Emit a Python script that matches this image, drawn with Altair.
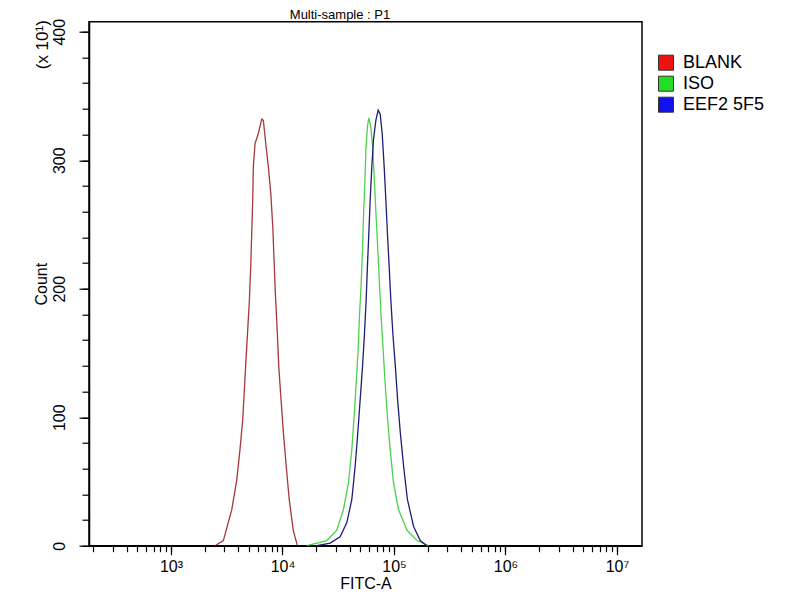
import altair as alt
import pandas as pd

# ---------------- data ----------------
series_names = ["BLANK", "ISO", "EEF2 5F5"]
line_colors = ["#a53838", "#4ecf4e", "#1e1e78"]
legend_colors = ["#ee1111", "#22dd22", "#1111ee"]

blank_fitc = [2480, 2950, 3510, 3890, 4160, 4400, 4550, 4710, 4880, 5050, 5190,
              5300, 5410, 5480, 5680, 6080, 6520, 6740, 7080, 7470, 7860, 8190,
              8410, 8640, 9000, 9270, 9720, 10190, 10800, 11500, 12500, 13600]
blank_count = [0, 4, 28, 51, 75, 98, 121, 145, 168, 191, 217,
               243, 269, 295, 313, 321, 332, 331, 313, 295, 274, 248,
               222, 196, 165, 139, 113, 88, 62, 36, 12, 0]

iso_fitc = [16500, 25000, 30700, 35200, 39100, 41900, 43900, 45800, 47700, 49000,
            50800, 52200, 53300, 54800, 56000, 57800, 59500, 62000, 64700, 66900,
            69200, 71700, 74100, 76800, 80000, 83400, 87400, 92500, 99000, 110000,
            131000, 161000, 204000]
iso_count = [0, 4, 12, 28, 49, 75, 100, 126, 152, 178,
             204, 230, 256, 282, 308, 326, 333, 326, 308, 282,
             256, 230, 204, 178, 152, 126, 100, 75, 49, 28,
             12, 4, 0]

eef2_fitc = [20300, 26800, 32900, 37800, 41900, 44900, 47400, 49700, 52200, 54400,
             56300, 57800, 59500, 61200, 63300, 65500, 68800, 72200, 75200, 78400,
             81700, 84600, 87400, 90600, 93800, 97800, 103000, 108000, 114000, 122000,
             132000, 150000, 172000, 197000]
eef2_count = [0, 2, 7, 18, 36, 62, 88, 113, 139, 165,
              191, 217, 243, 269, 295, 316, 331, 339, 336, 321,
              295, 269, 243, 217, 191, 165, 139, 113, 88, 62,
              36, 15, 4, 0]

x_domain = [184, 16777216]
y_domain = [0, 407.8]
y_major = [0, 100, 200, 300, 400]
y_minor = list(range(0, 401, 20))
x_major = [1000, 10000, 100000, 1000000, 10000000]
x_major_labels = ["10\u00b3", "10\u2074", "10\u2075", "10\u2076", "10\u2077"]
x_minor = [m * 10 ** e for e in range(2, 8) for m in range(1, 10)
           if x_domain[0] <= m * 10 ** e <= x_domain[1]]

title_text = "Multi-sample : P1"
x_title = "FITC-A"
y_title = "Count"
y_unit = "(x 10\u00b9)"
FONT = "Liberation Sans"

# ---------------- table ----------------
rows = []
for name, xs, ys in [(series_names[0], blank_fitc, blank_count),
                     (series_names[1], iso_fitc, iso_count),
                     (series_names[2], eef2_fitc, eef2_count)]:
    for xv, yv in zip(xs, ys):
        rows.append({"series": name, "fitc": xv, "count": yv})
df = pd.DataFrame(rows)

label_expr = "''"
for v, lab in reversed(list(zip(x_major, x_major_labels))):
    label_expr = f"datum.value == {v} ? '{lab}' : ({label_expr})"

xscale = alt.Scale(type="log", domain=x_domain, nice=False)
yscale = alt.Scale(domain=y_domain, nice=False, zero=False)

base = alt.Chart(df)

minor = base.mark_line(strokeOpacity=0).encode(
    x=alt.X("fitc:Q", scale=xscale, title=None,
            axis=alt.Axis(orient="bottom", values=x_minor, tickSize=6, labels=False,
                          domain=False, grid=False, tickColor="black", tickWidth=1.2)),
    y=alt.Y("count:Q", scale=yscale, title=None,
            axis=alt.Axis(orient="left", values=y_minor, tickSize=7, labels=False,
                          domain=False, grid=False, tickColor="black", tickWidth=1.2)),
    detail="series:N",
)

lines = base.mark_line(strokeWidth=1.3, clip=True).encode(
    x=alt.X("fitc:Q", scale=xscale, title=x_title,
            axis=alt.Axis(orient="bottom", values=x_major, tickSize=9, labelExpr=label_expr,
                          labelFont=FONT, labelFontSize=16, labelColor="black",
                          labelPadding=4, labelFlush=False, labelOverlap=False,
                          domain=True, domainColor="black", domainWidth=1.5,
                          grid=False, tickColor="black", tickWidth=1.2,
                          titleFont=FONT, titleFontSize=16, titleFontWeight="normal",
                          titleColor="black", titleX=276.5, titleY=43,
                          titleBaseline="alphabetic", titleAlign="center")),
    y=alt.Y("count:Q", scale=yscale, title=y_title,
            axis=alt.Axis(orient="left", values=y_major, tickSize=10,
                          labelFont=FONT, labelFontSize=16, labelColor="black",
                          labelAngle=270, labelAlign="center", labelBaseline="alphabetic",
                          labelPadding=15, labelFlush=False, labelOverlap=False,
                          domain=True, domainColor="black", domainWidth=1.5,
                          grid=False, tickColor="black", tickWidth=1.2,
                          titleFont=FONT, titleFontSize=16, titleFontWeight="normal",
                          titleColor="black", titleAngle=270, titleX=-48, titleY=262,
                          titleBaseline="middle", titleAlign="center")),
    # data-driven (sorted) domain so this hidden legend is not merged with the swatch legend
    stroke=alt.Stroke("series:N", sort=series_names, scale=alt.Scale(range=line_colors),
                      legend=None),
)

legend_layer = base.mark_square(
    size=225, filled=True, stroke="#333333", strokeWidth=1, opacity=0
).encode(
    x=alt.X("fitc:Q", scale=xscale, axis=None),
    y=alt.Y("count:Q", scale=yscale, axis=None),
    fill=alt.Fill("series:N", scale=alt.Scale(domain=series_names, range=legend_colors),
                  legend=alt.Legend(title=None, orient="none", legendX=568, legendY=32,
                                    symbolType="square", symbolSize=225, symbolOpacity=1,
                                    symbolStrokeColor="#333333", symbolStrokeWidth=1,
                                    labelFont=FONT, labelFontSize=18, labelColor="black",
                                    labelOffset=8, rowPadding=1)),
)

unit_text = alt.Chart(pd.DataFrame({"label": [y_unit]})).mark_text(
    angle=270, font=FONT, fontSize=17, align="center", baseline="middle", color="black"
).encode(text="label:N", x=alt.value(-46), y=alt.value(23))

title_mark = alt.Chart(pd.DataFrame({"label": [title_text]})).mark_text(
    font=FONT, fontSize=13, align="center", baseline="alphabetic", color="black"
).encode(text="label:N", x=alt.value(251), y=alt.value(-2.5))

chart = alt.layer(minor, lines, legend_layer, unit_text, title_mark).resolve_axis(
    x="independent", y="independent"
).properties(
    width=553,
    height=524,
    padding={"left": 81, "top": 13.7, "right": 150, "bottom": 46.3},
    autosize=alt.AutoSizeParams(type="none"),
).configure(font=FONT).configure_view(stroke="black", strokeWidth=1.5)

chart.save("out.html", embed_options={"renderer": "svg", "actions": False})
